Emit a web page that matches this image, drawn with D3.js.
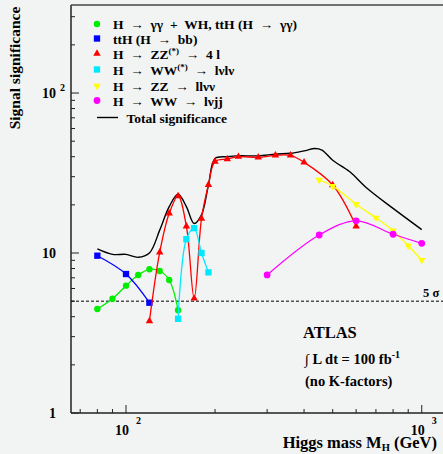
<!DOCTYPE html>
<html><head><meta charset="utf-8">
<script src="https://cdn.jsdelivr.net/npm/d3@7"></script>
<style>
html,body{margin:0;padding:0;background:#f2f3f3;}
svg{display:block;}
text{font-family:"Liberation Serif","Times New Roman",serif;font-weight:bold;fill:#000;white-space:pre;}
</style></head>
<body>
<svg id="c" width="443" height="454"></svg>
<script>
// ---- data ----
const massGG   = [80, 90, 100, 110, 120, 130, 140, 150];
const sigGG    = [4.47, 5.18, 6.25, 7.29, 7.91, 7.72, 6.78, 4.39];
const massTTH  = [80, 100, 120];
const sigTTH   = [9.62, 7.39, 4.89];
const massZZ4l = [120, 130, 140, 150, 160, 170, 180, 190, 200, 220, 240, 280, 320, 360, 400, 500, 600];
const sigZZ4l  = [3.76, 10.1, 17.7, 22.7, 14.7, 5.2, 16.4, 26.7, 37.3, 38.7, 40.0, 39.6, 40.8, 40.8, 36.9, 26.6, 14.7];
const massWW   = [150, 160, 170, 180, 190];
const sigWW    = [3.88, 12.2, 14.3, 10.0, 7.57];
const massZZnn = [450, 500, 600, 700, 800, 900, 1000];
const sigZZnn  = [28.6, 26.2, 20.2, 16.6, 13.8, 11.1, 9.04];
const massWWjj = [300, 450, 600, 800, 1000];
const sigWWjj  = [7.29, 12.96, 15.9, 13.1, 11.5];
const massTot  = [80, 90, 100, 110, 120, 130, 140, 150, 160, 170, 180, 190, 200, 220, 240, 280, 320, 360, 400, 435, 460, 500, 570, 650, 800, 1000];
const sigTot   = [10.6, 9.8, 9.8, 9.4, 10.0, 13.9, 19.5, 23.3, 19.5, 15.3, 17.3, 26.6, 39.0, 40.0, 40.5, 40.5, 41.5, 42.0, 43.5, 45.0, 44.0, 38.0, 32.3, 25.6, 19.0, 14.0];
const fiveSigma = 5;
const xMajorTicks = [100, 1000];
const xMinorTicks = [70, 80, 90, 200, 300, 400, 500, 600, 700, 800, 900];
const yMajorTicks = [1, 10, 100];
const yMinorTicks = [2,3,4,5,6,7,8,9,20,30,40,50,60,70,80,90,200,300];
const xTickLabels = [{v:100, base:"10", sup:"2"}, {v:1000, base:"10", sup:"3"}];
const yTickLabels = [{v:1, base:"1", sup:""}, {v:10, base:"10", sup:""}, {v:100, base:"10", sup:"2"}];

// ---- layout ----
const L = 71, T = 5, B = 413, R = 443;
const x = d3.scaleLog().domain([65.16, 1180]).range([L, R]);
const y = d3.scaleLog().domain([1, 355]).range([B, T]);
const svg = d3.select("#c");

// frame
const g = svg.append("g");
g.append("line").attr("x1", L).attr("x2", L).attr("y1", T).attr("y2", B).attr("stroke", "#222").attr("stroke-width", 1.5);
g.append("line").attr("x1", L).attr("x2", R + 5).attr("y1", B).attr("y2", B).attr("stroke", "#222").attr("stroke-width", 1.5);
g.append("line").attr("x1", L).attr("x2", R + 5).attr("y1", T).attr("y2", T).attr("stroke", "#444").attr("stroke-width", 1.5);

// ticks
xMajorTicks.forEach(v => g.append("line").attr("x1", x(v)).attr("x2", x(v)).attr("y1", B).attr("y2", B - 8).attr("stroke", "#222"));
xMinorTicks.forEach(v => g.append("line").attr("x1", x(v)).attr("x2", x(v)).attr("y1", B).attr("y2", B - 4).attr("stroke", "#222"));
yMajorTicks.forEach(v => g.append("line").attr("x1", L).attr("x2", L + 8).attr("y1", y(v)).attr("y2", y(v)).attr("stroke", "#222"));
yMinorTicks.forEach(v => g.append("line").attr("x1", L).attr("x2", L + 4).attr("y1", y(v)).attr("y2", y(v)).attr("stroke", "#222"));

// tick labels
xTickLabels.forEach(d => {
  g.append("text").attr("x", x(d.v) + 3).attr("y", 435).attr("text-anchor", "end").attr("font-size", 14).text(d.base);
  g.append("text").attr("x", x(d.v) + 10).attr("y", 424).attr("font-size", 10).text(d.sup);
});
yTickLabels.forEach(d => {
  g.append("text").attr("x", 56).attr("y", y(d.v) + 5).attr("text-anchor", "end").attr("font-size", 14).text(d.base);
  if (d.sup) g.append("text").attr("x", 60).attr("y", y(d.v) - 2).attr("font-size", 10).text(d.sup);
});

// axis titles
g.append("text").attr("transform", "translate(20,68) rotate(-90)").attr("text-anchor", "middle").attr("font-size", 15.5).text("Signal significance");
const xt = g.append("text").attr("x", 437).attr("y", 448).attr("text-anchor", "end").attr("font-size", 16.5);
xt.append("tspan").text("Higgs mass M");
xt.append("tspan").attr("font-size", 10.5).attr("dy", 3).text("H");
xt.append("tspan").attr("dy", -3).text(" (GeV)");

// 5 sigma line
g.append("line").attr("x1", L).attr("x2", R).attr("y1", y(fiveSigma)).attr("y2", y(fiveSigma))
  .attr("stroke", "#000").attr("stroke-width", 1).attr("stroke-dasharray", "3,2");
g.append("text").attr("x", 423).attr("y", y(fiveSigma) - 4).attr("font-size", 12.5).text("5 σ");

// annotations
g.append("text").attr("x", 303).attr("y", 338).attr("font-size", 16.5).text("ATLAS");
const lum = g.append("text").attr("x", 305).attr("y", 364).attr("font-size", 14.5);
lum.append("tspan").text("∫ L dt = 100 fb");
lum.append("tspan").attr("font-size", 10).attr("dy", -6).text("-1");
g.append("text").attr("x", 305).attr("y", 386).attr("font-size", 14.5).text("(no K-factors)");

// series
const line = d3.line().x(d => x(d[0])).y(d => y(d[1])).curve(d3.curveCatmullRom.alpha(0.5));
const zip = (a, b) => a.map((v, i) => [v, b[i]]);
const series = [
  {m: massGG, s: sigGG, c: "#00ee00", sym: d3.symbolCircle, size: 32, rot: 0},
  {m: massTTH, s: sigTTH, c: "#0000ff", sym: d3.symbolSquare, size: 40, rot: 0},
  {m: massZZ4l, s: sigZZ4l, c: "#ff0000", sym: d3.symbolTriangle, size: 24, rot: 0},
  {m: massWW, s: sigWW, c: "#00e8ff", sym: d3.symbolSquare, size: 40, rot: 0},
  {m: massZZnn, s: sigZZnn, c: "#ffff00", sym: d3.symbolTriangle, size: 24, rot: 180},
  {m: massWWjj, s: sigWWjj, c: "#ff00ff", sym: d3.symbolCircle, size: 36, rot: 0},
];
// total
g.append("path").datum(zip(massTot, sigTot)).attr("d", line).attr("fill", "none").attr("stroke", "#000").attr("stroke-width", 1.4);
series.forEach(sr => {
  const pts = zip(sr.m, sr.s);
  g.append("path").datum(pts).attr("d", line).attr("fill", "none").attr("stroke", sr.c).attr("stroke-width", 1.3);
  g.selectAll(null).data(pts).enter().append("path")
    .attr("d", d3.symbol().type(sr.sym).size(sr.size))
    .attr("transform", d => `translate(${x(d[0])},${y(d[1])}) rotate(${sr.rot})`)
    .attr("fill", sr.c);
});

// legend
const legRows = [24, 38.5, 53.5, 69.5, 86, 100.5, 117.5];
const legX = 97, legTX = 113;
const lg = svg.append("g");
series.forEach((sr, i) => {
  lg.append("path").attr("d", d3.symbol().type(sr.sym).size(sr.size))
    .attr("transform", `translate(${legX},${legRows[i]}) rotate(${sr.rot})`).attr("fill", sr.c);
});
const legText = (i) => lg.append("text").attr("x", legTX).attr("y", legRows[i] + 5).attr("font-size", 13.5);
legText(0).text("H  →  γγ  +  WH, ttH (H  →  γγ)");
legText(1).text("ttH (H  →  bb)");
{ const t = legText(2); t.append("tspan").text("H  →  ZZ"); t.append("tspan").attr("font-size", 9).attr("dy", -5).text("(*)"); t.append("tspan").attr("dy", 5).text("  →  4 l"); }
{ const t = legText(3); t.append("tspan").text("H  →  WW"); t.append("tspan").attr("font-size", 9).attr("dy", -5).text("(*)"); t.append("tspan").attr("dy", 5).text("  →  lνlν"); }
legText(4).text("H  →  ZZ  →  llνν");
legText(5).text("H  →  WW  →  lνjj");
lg.append("line").attr("x1", legX).attr("x2", 118).attr("y1", legRows[6]).attr("y2", legRows[6]).attr("stroke", "#000").attr("stroke-width", 1.4);
lg.append("text").attr("x", 126.5).attr("y", legRows[6] + 5).attr("font-size", 13.5).text("Total significance");
</script>
</body></html>
